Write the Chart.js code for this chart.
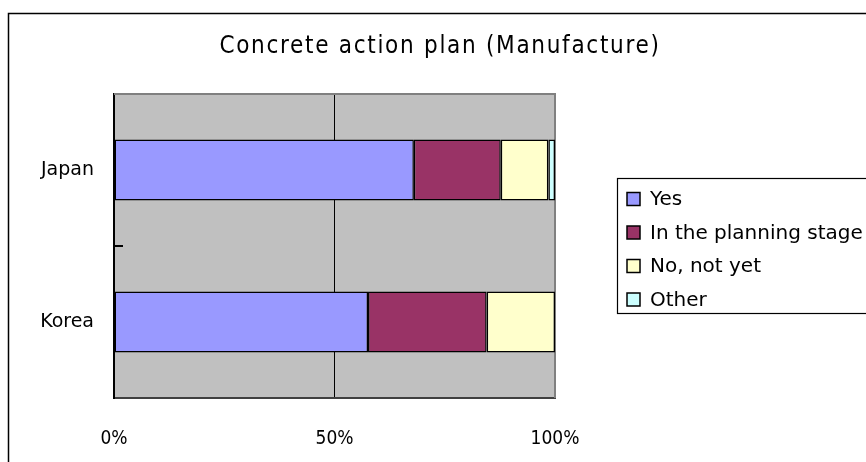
<!DOCTYPE html>
<html>
<head>
<meta charset="utf-8">
<script src="https://cdn.jsdelivr.net/npm/chart.js@4.4.1/dist/chart.umd.min.js"></script>
<style>
  html, body { margin: 0; padding: 0; background: #fff; }
  #wrap { width: 866px; height: 462px; position: relative; }
</style>
</head>
<body>
<div id="wrap"><canvas id="chart" width="866" height="462"></canvas></div>
<script>
const chartTitle = 'Concrete action plan (Manufacture)';
const countries = ['Japan', 'Korea'];
const seriesNames = ['Yes', 'In the planning stage', 'No, not yet', 'Other'];
const yesVals = [68.0, 57.6];
const planningVals = [19.7, 26.9];
const notYetVals = [10.8, 15.5];
const otherVals = [1.5, 0];
const xTicks = [0, 50, 100];
const seriesColors = ['#9999FF', '#993366', '#FFFFCC', '#CCFFFF'];

const FONT = '"DejaVu Sans", sans-serif';
const NARROW = '"Liberation Sans Narrow", "DejaVu Sans Condensed", sans-serif';

// fond gris + cadre extérieur + titre
const frame = {
  id: 'frame',
  beforeDraw(chart) {
    const { ctx, chartArea: a } = chart;
    ctx.save();
    ctx.fillStyle = '#fff';
    ctx.fillRect(0, 0, chart.width, chart.height);
    ctx.strokeStyle = '#000';
    ctx.lineWidth = 1.5;
    ctx.strokeRect(8.5, 13.5, chart.width + 20, chart.height + 20);
    ctx.fillStyle = '#C0C0C0';
    ctx.fillRect(a.left, a.top, a.right - a.left, a.bottom - a.top);
    ctx.fillStyle = '#000';
    ctx.font = '24px ' + NARROW;
    ctx.letterSpacing = '1.7px';
    ctx.textAlign = 'center';
    ctx.textBaseline = 'middle';
    ctx.fillText(chartTitle, 440, 47);
    ctx.restore();
  },
  beforeDatasetsDraw(chart) {
    const { ctx, chartArea: a } = chart;
    ctx.save();
    ctx.strokeStyle = '#808080';
    ctx.lineWidth = 2;
    ctx.beginPath();
    ctx.moveTo(a.left, a.top);
    ctx.lineTo(a.right, a.top);
    ctx.lineTo(a.right, a.bottom);
    ctx.stroke();
    ctx.restore();
  },
  afterDraw(chart) {
    const { ctx } = chart;
    ctx.save();
    ctx.strokeStyle = '#000';
    ctx.lineWidth = 1.2;
    ctx.strokeRect(617.5, 178.5, 300, 135);
    ctx.font = '20px ' + FONT;
    ctx.textBaseline = 'middle';
    ctx.textAlign = 'left';
    chart.data.datasets.forEach((ds, i) => {
      const y = 199 + i * 33.5;
      ctx.fillStyle = ds.backgroundColor;
      ctx.fillRect(627, y - 6.5, 13, 13);
      ctx.strokeStyle = '#000';
      ctx.lineWidth = 1.5;
      ctx.strokeRect(627, y - 6.5, 13, 13);
      ctx.fillStyle = '#000';
      ctx.fillText(ds.label, 650, y + 1);
    });
    ctx.restore();
  }
};

const seriesVals = [yesVals, planningVals, notYetVals, otherVals];

new Chart(document.getElementById('chart'), {
  type: 'bar',
  data: {
    labels: countries,
    datasets: seriesNames.map((name, i) => ({
      label: name,
      data: seriesVals[i],
      backgroundColor: seriesColors[i],
      borderColor: '#000',
      borderWidth: 1.5,
      borderSkipped: false,
      barPercentage: 0.4,
      categoryPercentage: 1.0
    }))
  },
  options: {
    indexAxis: 'y',
    responsive: false,
    animation: false,
    layout: { padding: { left: 8, right: 311, top: 94, bottom: 0 } },
    plugins: {
      legend: { display: false },
      title: { display: false },
      tooltip: { enabled: false }
    },
    scales: {
      x: {
        stacked: true,
        min: 0,
        max: 100,
        afterBuildTicks: s => { s.ticks = xTicks.map(v => ({ value: v })); },
        afterFit: s => { s.height = 64; },
        grid: { color: '#000', lineWidth: 1, drawTicks: false },
        border: { display: true, color: '#404040', width: 2 },
        ticks: {
          padding: 30,
          color: '#000',
          font: { family: NARROW, size: 19 },
          callback: v => v + '%'
        }
      },
      y: {
        stacked: true,
        afterFit: s => { s.width = 106; },
        grid: { offset: true, drawOnChartArea: false, drawTicks: true, tickLength: -9, color: '#000', lineWidth: 2 },
        border: { display: true, color: '#000', width: 2 },
        ticks: {
          padding: 29,
          color: '#000',
          font: { family: FONT, size: 19 }
        }
      }
    }
  },
  plugins: [frame]
});
</script>
</body>
</html>
